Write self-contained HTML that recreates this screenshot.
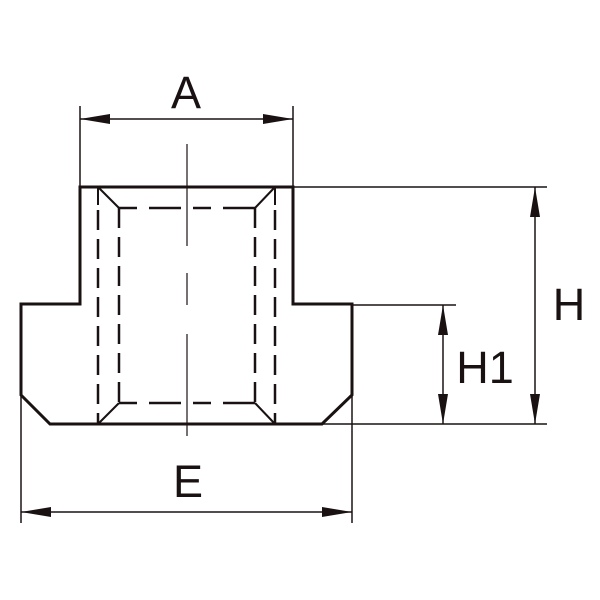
<!DOCTYPE html>
<html><head><meta charset="utf-8"><style>html,body{margin:0;padding:0;background:#fff}svg{display:block}</style></head>
<body>
<svg width="600" height="600" viewBox="0 0 600 600" xmlns="http://www.w3.org/2000/svg">
<g fill="none" stroke="#1a1212" stroke-linejoin="miter">
<!-- outline -->
<path d="M80,187 L293,187 L293,304 L352,304 L352,395 L322,424 L50,424 L21,395 L21,304 L80,304 Z" stroke-width="3"/>
<!-- dashed thread lines -->
<g stroke-width="2.5" stroke-dasharray="20 9">
<line x1="98" y1="210" x2="98" y2="424"/>
<line x1="275" y1="210" x2="275" y2="424"/>
<line x1="119" y1="208" x2="119" y2="403"/>
<line x1="255" y1="208" x2="255" y2="403"/>
<line x1="119" y1="208" x2="255" y2="208" stroke-dasharray="18 12 32 12"/>
<line x1="119" y1="403" x2="255" y2="403" stroke-dasharray="18 12 32 12"/>
</g>
<g stroke-width="2">
<line x1="98" y1="187" x2="98" y2="205"/>
<line x1="275" y1="187" x2="275" y2="205"/>
<line x1="98" y1="187" x2="119" y2="208"/>
<line x1="275" y1="187" x2="255" y2="208"/>
<line x1="98" y1="424" x2="119" y2="403"/>
<line x1="275" y1="424" x2="255" y2="403"/>
</g>
<!-- center line -->
<g stroke-width="1.2">
<line x1="187" y1="144" x2="187" y2="246"/>
<line x1="187" y1="273" x2="187" y2="305"/>
<line x1="187" y1="334" x2="187" y2="436"/>
</g>
<!-- extension lines -->
<g stroke-width="1.5">
<line x1="80" y1="106" x2="80" y2="187"/>
<line x1="293" y1="106" x2="293" y2="187"/>
<line x1="293" y1="187" x2="547" y2="187"/>
<line x1="322" y1="424" x2="547" y2="424"/>
<line x1="352" y1="305" x2="456" y2="305"/>
<line x1="21" y1="395" x2="21" y2="523"/>
<line x1="352" y1="395" x2="352" y2="523"/>
<!-- dim lines -->
<line x1="80" y1="119" x2="293" y2="119"/>
<line x1="535" y1="187" x2="535" y2="424"/>
<line x1="443" y1="305" x2="443" y2="424"/>
<line x1="21" y1="512" x2="352" y2="512"/>
</g>
</g>
<g fill="#1a1212">
<polygon points="80,119 110,114 110,124"/>
<polygon points="293,119 263,114 263,124"/>
<polygon points="535,187 530,217 540,217"/>
<polygon points="535,424 530,394 540,394"/>
<polygon points="443,305 438,335 448,335"/>
<polygon points="443,424 438,394 448,394"/>
<polygon points="21,512 51,507 51,517"/>
<polygon points="352,512 322,507 322,517"/>
</g>
<g font-family="Liberation Sans, sans-serif" font-size="45" fill="#1a1212">
<text x="186" y="108" text-anchor="middle">A</text>
<text x="569" y="320" text-anchor="middle">H</text>
<text x="485" y="383" text-anchor="middle">H1</text>
<text x="188" y="497" text-anchor="middle">E</text>
</g>
</svg>
</body></html>
